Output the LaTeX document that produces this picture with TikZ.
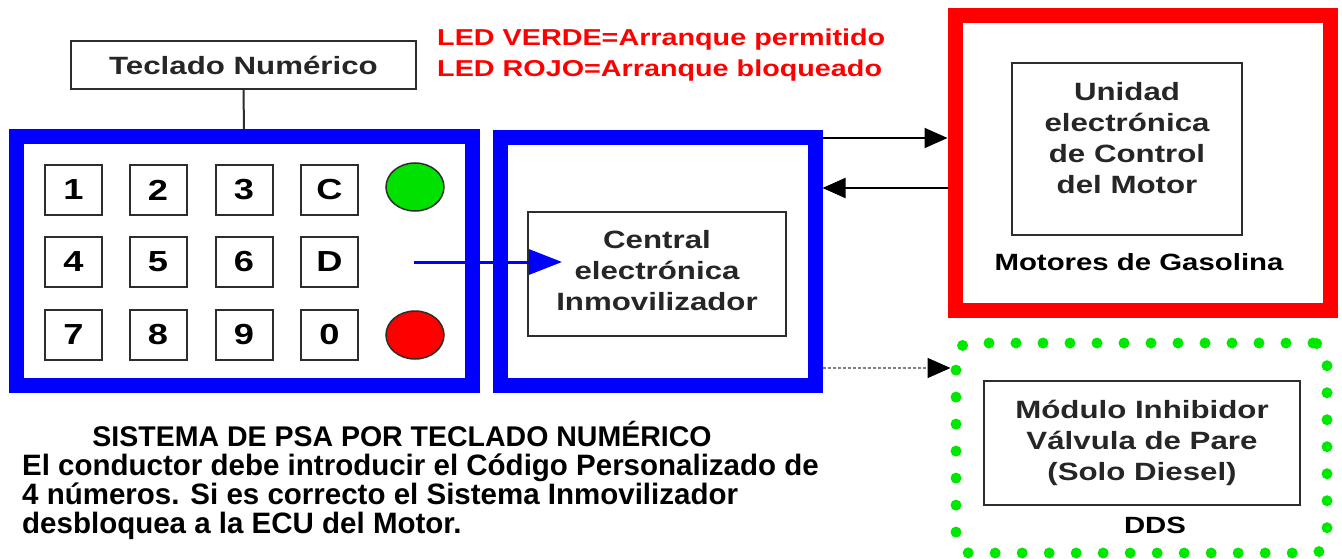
\documentclass[tikz,border=0pt]{standalone}
\usepackage{fontspec}
\setmainfont{Liberation Sans}
\newfontfamily\widesans[FakeStretch=1.25]{Liberation Sans}
\usetikzlibrary{arrows.meta,shapes.geometric}

\definecolor{kpblue}{RGB}{0,0,255}
\definecolor{ecured}{RGB}{255,0,0}
\definecolor{ledgreen}{RGB}{0,225,0}
\definecolor{dotgreen}{RGB}{0,232,0}
\definecolor{boxgray}{RGB}{45,45,45}

\tikzset{
    txtbox/.style={draw=boxgray, line width=2pt, inner sep=0pt, align=center,
        text=black!85, font=\widesans\bfseries\fontsize{25}{31}\selectfont},
    keybox/.style={draw=boxgray, line width=2pt, inner sep=0pt,
        minimum width=57pt, minimum height=50pt,
        font=\widesans\bfseries\fontsize{29}{29}\selectfont},
    ledlamp/.style={ellipse, draw=boxgray, line width=1.5pt,
        minimum width=58pt, minimum height=48pt},
    blueframe/.style={draw=kpblue, line width=15pt, inner sep=0pt},
    boldlabel/.style={inner sep=0pt, font=\widesans\bfseries\fontsize{23.5}{28}\selectfont},
    para/.style={inner sep=0pt, font=\bfseries\fontsize{29.5}{29}\selectfont},
    blackarrow/.style={line width=2pt, -{Triangle[length=23pt,width=20pt,color=black]}}
}

\begin{document}
\begin{tikzpicture}[x=1pt, y=-1pt]
    \useasboundingbox[fill=white] (0,0) rectangle (1342,559);

    % teclado
    \node[txtbox, minimum width=345pt, minimum height=48pt] (tecl) at (243.5,65) {Teclado Numérico};
    \node[blueframe, minimum width=456pt, minimum height=248pt] (keypad) at (244,261) {};
    \draw[boxgray, line width=2pt] (tecl.south) -- (keypad.north);

    \node[keybox] (k1) at (73.5,190) {1};
    \node[keybox] (k2) at (158,190) {2};
    \node[keybox] (k3) at (244,190) {3};
    \node[keybox] (kC) at (329.5,190) {C};
    \node[keybox] (k4) at (73.5,261.5) {4};
    \node[keybox] (k5) at (158,261.5) {5};
    \node[keybox] (k6) at (244,261.5) {6};
    \node[keybox] (kD) at (329.5,261.5) {D};
    \node[keybox] (k7) at (73.5,335) {7};
    \node[keybox] (k8) at (158,335) {8};
    \node[keybox] (k9) at (244,335) {9};
    \node[keybox] (k0) at (329.5,335) {0};

    \node[ledlamp, fill=ledgreen] (ledverde) at (415,187) {};
    \node[ledlamp, fill=ecured] (ledrojo) at (415,335) {};

    \node[inner sep=0pt, anchor=base west, align=left, text=ecured,
        font=\widesans\bfseries\fontsize{23}{31}\selectfont] (leyenda) at (437,77)
        {LED VERDE=Arranque permitido\\LED ROJO=Arranque bloqueado};

    % central inmovilizador
    \node[blueframe, minimum width=315pt, minimum height=247pt] (centframe) at (657.5,261.5) {};
    \node[txtbox, minimum width=258pt, minimum height=124pt, text depth=7pt] (central) at (657,274)
        {Central\\electrónica\\Inmovilizador};
    \coordinate (kpout) at (414,262);
    \draw[kpblue, line width=3pt, -{Triangle[length=33pt,width=25pt]}]
        (kpout) -- ([xshift=35pt]central.west |- kpout);

    % motor gasolina
    \node[draw=ecured, line width=15pt, inner sep=0pt, minimum width=375pt, minimum height=294pt]
        (gasframe) at (1142.5,163) {};
    \node[txtbox, minimum width=230pt, minimum height=172pt, text depth=22pt] (ecu) at (1127,149)
        {Unidad\\electrónica\\de Control\\del Motor};
    \node[boldlabel] (gaslbl) at (1139,262) {Motores de Gasolina};

    % DDS
    \node[draw=dotgreen, line width=11pt, dash pattern=on 0pt off 27pt, line cap=round,
        rounded corners=14pt, inner sep=0pt, minimum width=371pt, minimum height=210pt]
        (ddsframe) at (1141.5,448) {};
    \node[txtbox, minimum width=316pt, minimum height=124pt] (inhib) at (1142,443)
        {Módulo Inhibidor\\Válvula de Pare\\(Solo Diesel)};
    \node[boldlabel] (ddslbl) at (1155,525) {DDS};

    % enlaces
    \coordinate (nivA) at (880,138);
    \coordinate (nivB) at (880,188);
    \coordinate (nivC) at (880,368);
    \draw[blackarrow] (centframe.east |- nivA) -- (gasframe.west |- nivA);
    \draw[blackarrow] (gasframe.west |- nivB) -- (centframe.east |- nivB);
    \draw[blackarrow, line width=1.5pt, dash pattern=on 3pt off 2pt, gray] (centframe.east |- nivC) -- (ddsframe.west |- nivC);

    % texto inferior
    \node[para, font=\bfseries\fontsize{28.5}{29}\selectfont, anchor=base] (titulo) at (402,446)
        {SISTEMA DE PSA POR TECLADO NUMÉRICO};
    \node[para, anchor=base west, align=left] (nota) at (22,533)
        {El conductor debe introducir el Código Personalizado de\\
         4 números. Si es correcto el Sistema Inmovilizador\\
         desbloquea a la ECU del Motor.};
\end{tikzpicture}
\end{document}
